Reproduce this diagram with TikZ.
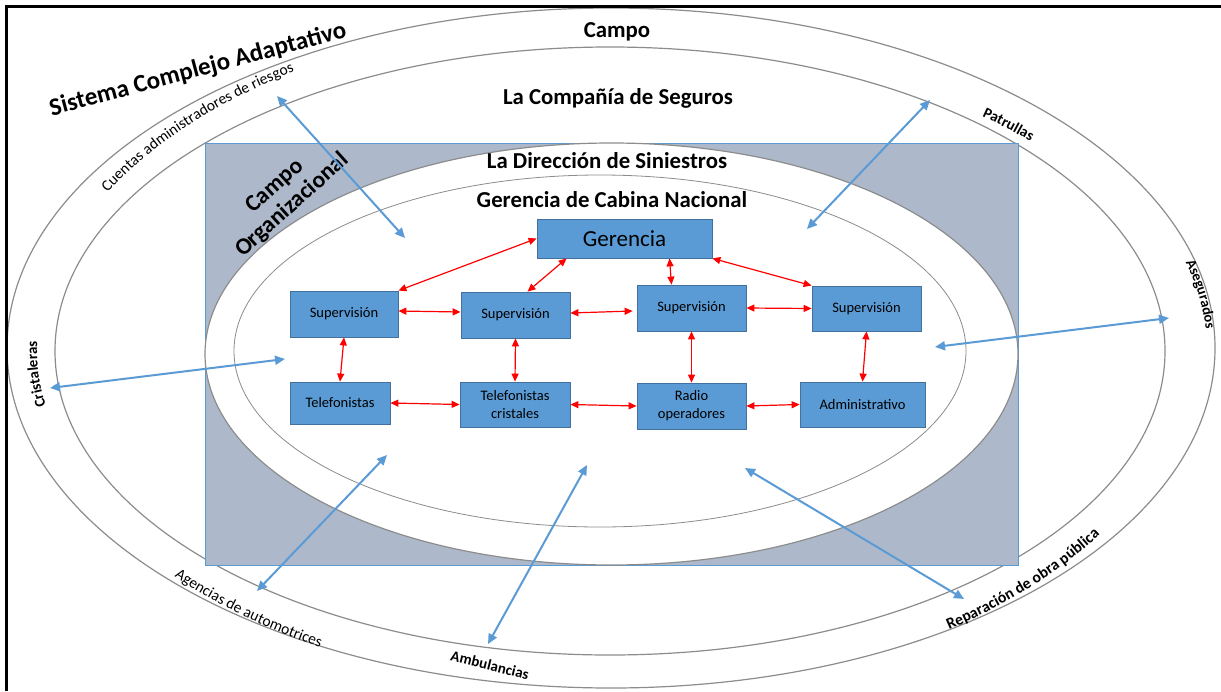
\documentclass[tikz,border=0pt]{standalone}
\usepackage{fontspec}
\setmainfont{Carlito}
\usetikzlibrary{arrows.meta,decorations.text}
\definecolor{cajaazul}{HTML}{5B9BD5}
\definecolor{bordeazul}{HTML}{41719C}
\definecolor{grisorg}{HTML}{ADB9CA}
\definecolor{lineagris}{HTML}{8C8C8C}
\tikzset{
  caja/.style={draw=bordeazul, fill=cajaazul, line width=0.8pt, inner sep=0pt,
    align=center, font=\fontsize{14.5}{18}\selectfont},
  rel/.style={red, line width=1.2pt,
    {Triangle[length=8pt,width=7pt]}-{Triangle[length=8pt,width=7pt]}},
  flujo/.style={cajaazul, line width=2pt,
    {Triangle[length=10pt,width=9pt]}-{Triangle[length=10pt,width=9pt]}},
  anillo/.style={draw=lineagris, line width=1.2pt},
  titulo/.style={anchor=base, font=\fontsize{22.8}{24}\selectfont\bfseries},
}
\begin{document}
\begin{tikzpicture}[x=1pt,y=-1pt]
\useasboundingbox (0,0) rectangle (1221,691);
% anillos
\draw[anillo, fill=white] (611,348) ellipse [x radius=604pt, y radius=340pt];
\draw[anillo] (610,351) ellipse [x radius=555pt, y radius=304pt];
\draw[draw=cajaazul, fill=grisorg, line width=0.8pt] (205,143) rectangle (1018,565);
\draw[anillo, fill=white] (611.5,354) ellipse [x radius=406.5pt, y radius=211pt];
\draw[anillo, line width=0.8pt] (600,351) ellipse [x radius=366pt, y radius=176pt];
% titulos
\node[titulo] (campo) at (617,37) {Campo};
\node[titulo] (cia) at (618,104) {La Compañía de Seguros};
\node[titulo] (dir) at (607,168) {La Dirección de Siniestros};
\node[titulo] (gcn) at (612,207) {Gerencia de Cabina Nacional};
\node[rotate=15, font=\fontsize{25}{27}\selectfont\bfseries] (sca) at (198,70) {Sistema Complejo Adaptativo};
\node[rotate=42, align=center, font=\fontsize{23.5}{26}\selectfont\bfseries] (corg) at (284,196) {Campo\\Organizacional};
% actores del campo
\path[decorate, decoration={text along path, text align=center,
  text={|\fontsize{15.5}{15}\selectfont|Cuentas administradores de riesgos}}, shift={(611,359.5)}]
  (196:575 and 345) arc[start angle=196, end angle=246, x radius=575, y radius=345];
\path[decorate, decoration={text along path, text align=center,
  text={|\fontsize{15}{15}\selectfont\bfseries|Patrullas}}, shift={(611,350)}]
  (300:570 and 308) arc[start angle=300, end angle=330, x radius=570, y radius=308];
\path[decorate, decoration={text along path, text align=center,
  text={|\fontsize{14.5}{14}\selectfont\bfseries|Asegurados}}, shift={(611,350)}]
  (-24:596 and 330) arc[start angle=-24, end angle=6, x radius=596, y radius=330];
\path[decorate, decoration={text along path, text align=center,
  text={|\fontsize{15}{15}\selectfont\bfseries|Cristaleras}}, shift={(611,350)}]
  (161:574 and 318) arc[start angle=161, end angle=191, x radius=574, y radius=318];
\path[decorate, decoration={text along path, text align=center,
  text={|\fontsize{15.5}{15}\selectfont|Agencias de automotrices}}, shift={(611,343)}]
  (156:585 and 351) arc[start angle=156, end angle=106, x radius=585, y radius=351];
\node[rotate=-14, font=\fontsize{15}{15}\selectfont\bfseries] (amb) at (490,665) {Ambulancias};
\path[decorate, decoration={text along path, text align=center,
  text={|\fontsize{15.8}{15}\selectfont\bfseries|Reparación de obra pública}}, shift={(611,340)}]
  (67:585 and 355) arc[start angle=67, end angle=17, x radius=585, y radius=355];
% cajas
\node[caja, minimum width=175pt, minimum height=39pt, font=\fontsize{23}{24}\selectfont] (ger) at (624.5,238.5) {Gerencia};
\node[caja, minimum width=108pt, minimum height=46pt] (sup1) at (344,314) {Supervisión};
\node[caja, minimum width=109pt, minimum height=46pt] (sup2) at (515.5,315) {Supervisión};
\node[caja, minimum width=109pt, minimum height=46pt] (sup3) at (691.5,308) {Supervisión};
\node[caja, minimum width=109pt, minimum height=45pt] (sup4) at (866.5,308.5) {Supervisión};
\node[caja, minimum width=100pt, minimum height=42pt] (tel) at (340,403) {Telefonistas};
\node[caja, minimum width=110pt, minimum height=45pt] (telcri) at (515,404.5) {Telefonistas\\cristales};
\node[caja, minimum width=109pt, minimum height=46pt] (radio) at (691.5,406) {Radio\\operadores};
\node[caja, minimum width=125pt, minimum height=45pt] (admin) at (862.5,404.5) {Administrativo};
% relaciones internas
\draw[rel] (ger.west) -- (sup1.north east);
\draw[rel] ([xshift=30pt]ger.south west) -- ([xshift=12pt]sup2.north);
\draw[rel] ([xshift=45pt]ger.south) -- ([xshift=-20pt]sup3.north);
\draw[rel] (ger.south east) -- (sup4.north west);
\draw[rel] ([yshift=3pt]sup1.east) -- ([yshift=3pt]sup2.west);
\draw[rel] ([yshift=2pt]sup2.east) -- ([xshift=-4pt,yshift=-3pt]sup3.west);
\draw[rel] (sup3.east) -- (sup4.west);
\draw[rel] (sup1.south) -- (tel.north);
\draw[rel] (sup2.south) -- (telcri.north);
\draw[rel] (sup3.south) -- (radio.north);
\draw[rel] (sup4.south) -- (admin.north);
\draw[rel] (tel.east) -- (telcri.west);
\draw[rel] (telcri.east) -- (radio.west);
\draw[rel] (radio.east) -- (admin.west);
% relaciones con el campo
\coordinate (A1) at (277,96);   \coordinate (B1) at (405,238);
\coordinate (A2) at (930,100);  \coordinate (B2) at (807,229);
\coordinate (A3) at (50,388);   \coordinate (B3) at (285,359);
\coordinate (A4) at (1169,318); \coordinate (B4) at (935,347);
\coordinate (A5) at (257,591);  \coordinate (B5) at (387,455);
\coordinate (A6) at (488,644);  \coordinate (B6) at (587,465);
\coordinate (A7) at (964,599);  \coordinate (B7) at (745,468);
\foreach \i in {1,...,7}
  \draw[flujo] (A\i) -- (B\i);
% marco
\draw[line width=3pt] (6.5,691) -- (6.5,6.5) -- (1221,6.5);
\end{tikzpicture}
\end{document}
